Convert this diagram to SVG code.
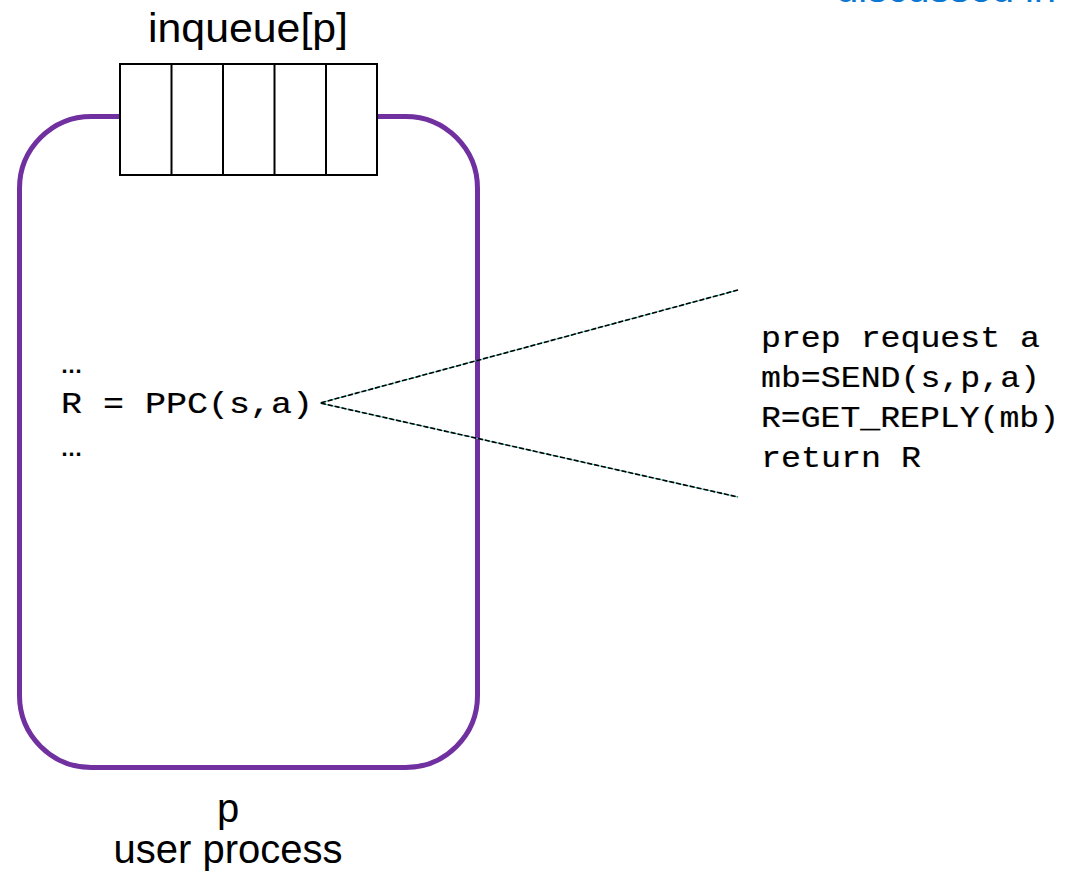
<svg xmlns="http://www.w3.org/2000/svg" width="1068" height="887" viewBox="0 0 1068 887">
  <style>
    .sans { font-family: "Liberation Sans", Arial, sans-serif; font-size: 40px; fill: #000; }
    .mono { font-family: "Liberation Mono", "Courier New", monospace; font-size: 29px; fill: #000; stroke: #000; stroke-width: 0.2; }
    .link { font-family: "Liberation Sans", Arial, sans-serif; font-size: 40px; fill: #0A78D2; }
    .proc { fill: #fff; stroke: #7030A0; stroke-width: 5; }
    .cell { fill: #fff; stroke: #000; stroke-width: 2; }
    .guide { stroke: #3FC9B8; stroke-width: 1; fill: none; }
    .dash { stroke: #000; stroke-width: 1.6; stroke-dasharray: 5 2; fill: none; }
  </style>

  <rect width="1068" height="887" fill="#fff"/>

  <!-- partially visible heading at the top edge -->
  <text class="link" x="836" y="2">discussed in</text>

  <!-- process p -->
  <g id="process-p">
    <rect class="proc" x="19.5" y="116.5" width="458" height="651" rx="72" ry="72"/>
    <text class="mono" x="61" y="373" textLength="21" lengthAdjust="spacingAndGlyphs">…</text>
    <text class="mono" x="61" y="413" textLength="252" lengthAdjust="spacingAndGlyphs">R = PPC(s,a)</text>
    <text class="mono" x="61" y="456" textLength="21" lengthAdjust="spacingAndGlyphs">…</text>
    <text class="sans" x="228" y="822" text-anchor="middle">p</text>
    <text class="sans" x="228" y="863" text-anchor="middle">user process</text>
  </g>

  <!-- inqueue[p] -->
  <g id="inqueue">
    <text class="sans" x="248" y="42" text-anchor="middle" textLength="200" lengthAdjust="spacingAndGlyphs">inqueue[p]</text>
    <rect class="cell" x="120" y="64" width="257" height="111"/>
    <line class="cell" x1="171.5" y1="64" x2="171.5" y2="175"/>
    <line class="cell" x1="223" y1="64" x2="223" y2="175"/>
    <line class="cell" x1="274.5" y1="64" x2="274.5" y2="175"/>
    <line class="cell" x1="326" y1="64" x2="326" y2="175"/>
  </g>

  <!-- expansion of the PPC call -->
  <g id="ppc-body">
    <text class="mono" x="761" y="347" textLength="279" lengthAdjust="spacingAndGlyphs">prep request a</text>
    <text class="mono" x="761" y="387" textLength="279" lengthAdjust="spacingAndGlyphs">mb=SEND(s,p,a)</text>
    <text class="mono" x="761" y="427" textLength="298" lengthAdjust="spacingAndGlyphs">R=GET_REPLY(mb)</text>
    <text class="mono" x="761" y="467" textLength="160" lengthAdjust="spacingAndGlyphs">return R</text>
  </g>

  <!-- connectors -->
  <g id="connectors">
    <polyline class="guide" points="738,290 320,403 738,497"/>
    <polyline class="dash" points="738,290 320,403 738,497"/>
  </g>
</svg>
